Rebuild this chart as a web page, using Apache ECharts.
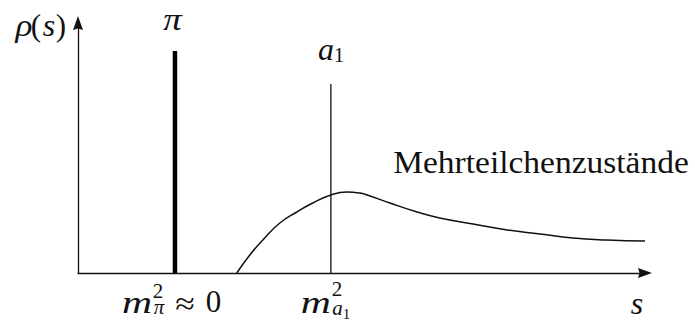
<!DOCTYPE html>
<html>
<head>
<meta charset="utf-8">
<script src="https://cdn.jsdelivr.net/npm/echarts@6/dist/echarts.min.js"></script>
<style>
  html, body { margin: 0; padding: 0; background: #fff; }
  #chart { width: 695px; height: 330px; }
</style>
</head>
<body>
<div id="chart"></div>
<script>
// Spectral density rho(s): pion pole, a1 resonance and the multiparticle continuum

// axis ranges (arbitrary units)
const sRange = [0, 10];
const rhoRange = [0, 10];

// sharp states: position on the s axis and drawn height
const poleNames = ['π', 'a1'];
const poleS = [1.71, 4.46];
const poleHeight = [8.88, 7.56];

// continuum of many-particle states
const continuumS = [2.80, 3.03, 3.26, 3.56, 3.86, 4.14, 4.46, 4.74, 4.97, 5.10, 5.50, 5.98, 6.38, 6.97, 7.57, 8.15, 8.73, 9.33, 10.0];
const continuumRho = [0, 0.72, 1.32, 2.00, 2.44, 2.80, 3.12, 3.24, 3.20, 3.12, 2.80, 2.44, 2.20, 1.96, 1.72, 1.56, 1.40, 1.32, 1.28];

const continuumLabel = 'Mehrteilchenzustände';

const INK = '#111';
const SERIF = 'Liberation Serif';
const arrowHead = 'path://M5,0L10,14L5,12.5L0,14Z';

const chart = echarts.init(document.getElementById('chart'), null, { renderer: 'svg' });

const axisCommon = {
  type: 'value',
  splitLine: { show: false },
  axisTick: { show: false },
  axisLabel: { show: false },
  axisLine: {
    show: true,
    symbol: ['none', arrowHead],
    symbolSize: [10, 14],
    lineStyle: { color: INK, width: 1.3 }
  }
};

chart.setOption({
  animation: false,
  textStyle: { fontFamily: SERIF },
  grid: { left: 78, right: 50, top: 23, bottom: 57 },
  xAxis: Object.assign({}, axisCommon, { min: sRange[0], max: sRange[1] }),
  yAxis: Object.assign({}, axisCommon, { min: rhoRange[0], max: rhoRange[1] }),
  series: [
    {
      name: poleNames[0],
      type: 'line',
      data: [[poleS[0], 0], [poleS[0], poleHeight[0]]],
      symbol: 'none',
      lineStyle: { color: '#000', width: 4.5, cap: 'butt' }
    },
    {
      name: poleNames[1],
      type: 'line',
      data: [[poleS[1], 0], [poleS[1], poleHeight[1]]],
      symbol: 'none',
      lineStyle: { color: INK, width: 1.3 }
    },
    {
      name: continuumLabel,
      type: 'line',
      data: continuumS.map((s, i) => [s, continuumRho[i]]),
      symbol: 'none',
      smooth: 0.5,
      lineStyle: { color: INK, width: 1.5 }
    }
  ]
});

// math-style labels placed next to the marks they belong to
const toPx = (s, r) => chart.convertToPixel({ gridIndex: 0 }, [s, r]);
const origin = toPx(0, 0);
const axisEnd = toPx(sRange[1], 0);
const pi = toPx(poleS[0], poleHeight[0]);
const a1 = toPx(poleS[1], poleHeight[1]);

// text centred on (cx, cy)
function txt(cx, cy, text, size, italic, scaleX) {
  return {
    type: 'text',
    x: cx,
    y: cy,
    scaleX: scaleX || 1,
    style: {
      text: text,
      fontFamily: SERIF,
      fontSize: size,
      fontStyle: italic ? 'italic' : 'normal',
      fill: INK,
      align: 'center',
      verticalAlign: 'middle'
    }
  };
}

const tickY = origin[1];
const graphics = [
  // rho(s) at the top of the vertical axis
  txt(origin[0] - 54, 25, 'ρ', 32, true, 1.1),
  txt(origin[0] - 42, 25, '(', 31, false),
  txt(origin[0] - 29, 25, 's', 32, true),
  txt(origin[0] - 17, 25, ')', 31, false),

  // state names above the lines
  txt(pi[0] - 2.5, pi[1] - 32, 'π', 32, true, 1.15),
  txt(a1[0] - 5, a1[1] - 35, 'a', 32, true),
  txt(a1[0] + 8, a1[1] - 29, '1', 21, false),

  // m_pi^2 ≈ 0 under the pion line
  txt(pi[0] - 38, tickY + 29, 'm', 32, true, 1.3),
  txt(pi[0] - 17, tickY + 18, '2', 21, false),
  txt(pi[0] - 16, tickY + 34, 'π', 21, true),
  txt(pi[0] + 10, tickY + 30, '≈', 31, false, 1.15),
  txt(pi[0] + 38.5, tickY + 28, '0', 31, false),

  // m_a1^2 under the a1 line
  txt(a1[0] - 15, tickY + 29, 'm', 32, true, 1.3),
  txt(a1[0] + 6, tickY + 15.5, '2', 21, false),
  txt(a1[0] + 6.5, tickY + 35, 'a', 21, true),
  txt(a1[0] + 15.5, tickY + 41, '1', 15, false),

  // variable name at the end of the horizontal axis
  txt(axisEnd[0] - 8, tickY + 30, 's', 32, true),

  // continuum label
  txt(541, 162, continuumLabel, 31, false, 1.08)
];

chart.setOption({ graphic: graphics });
</script>
</body>
</html>
